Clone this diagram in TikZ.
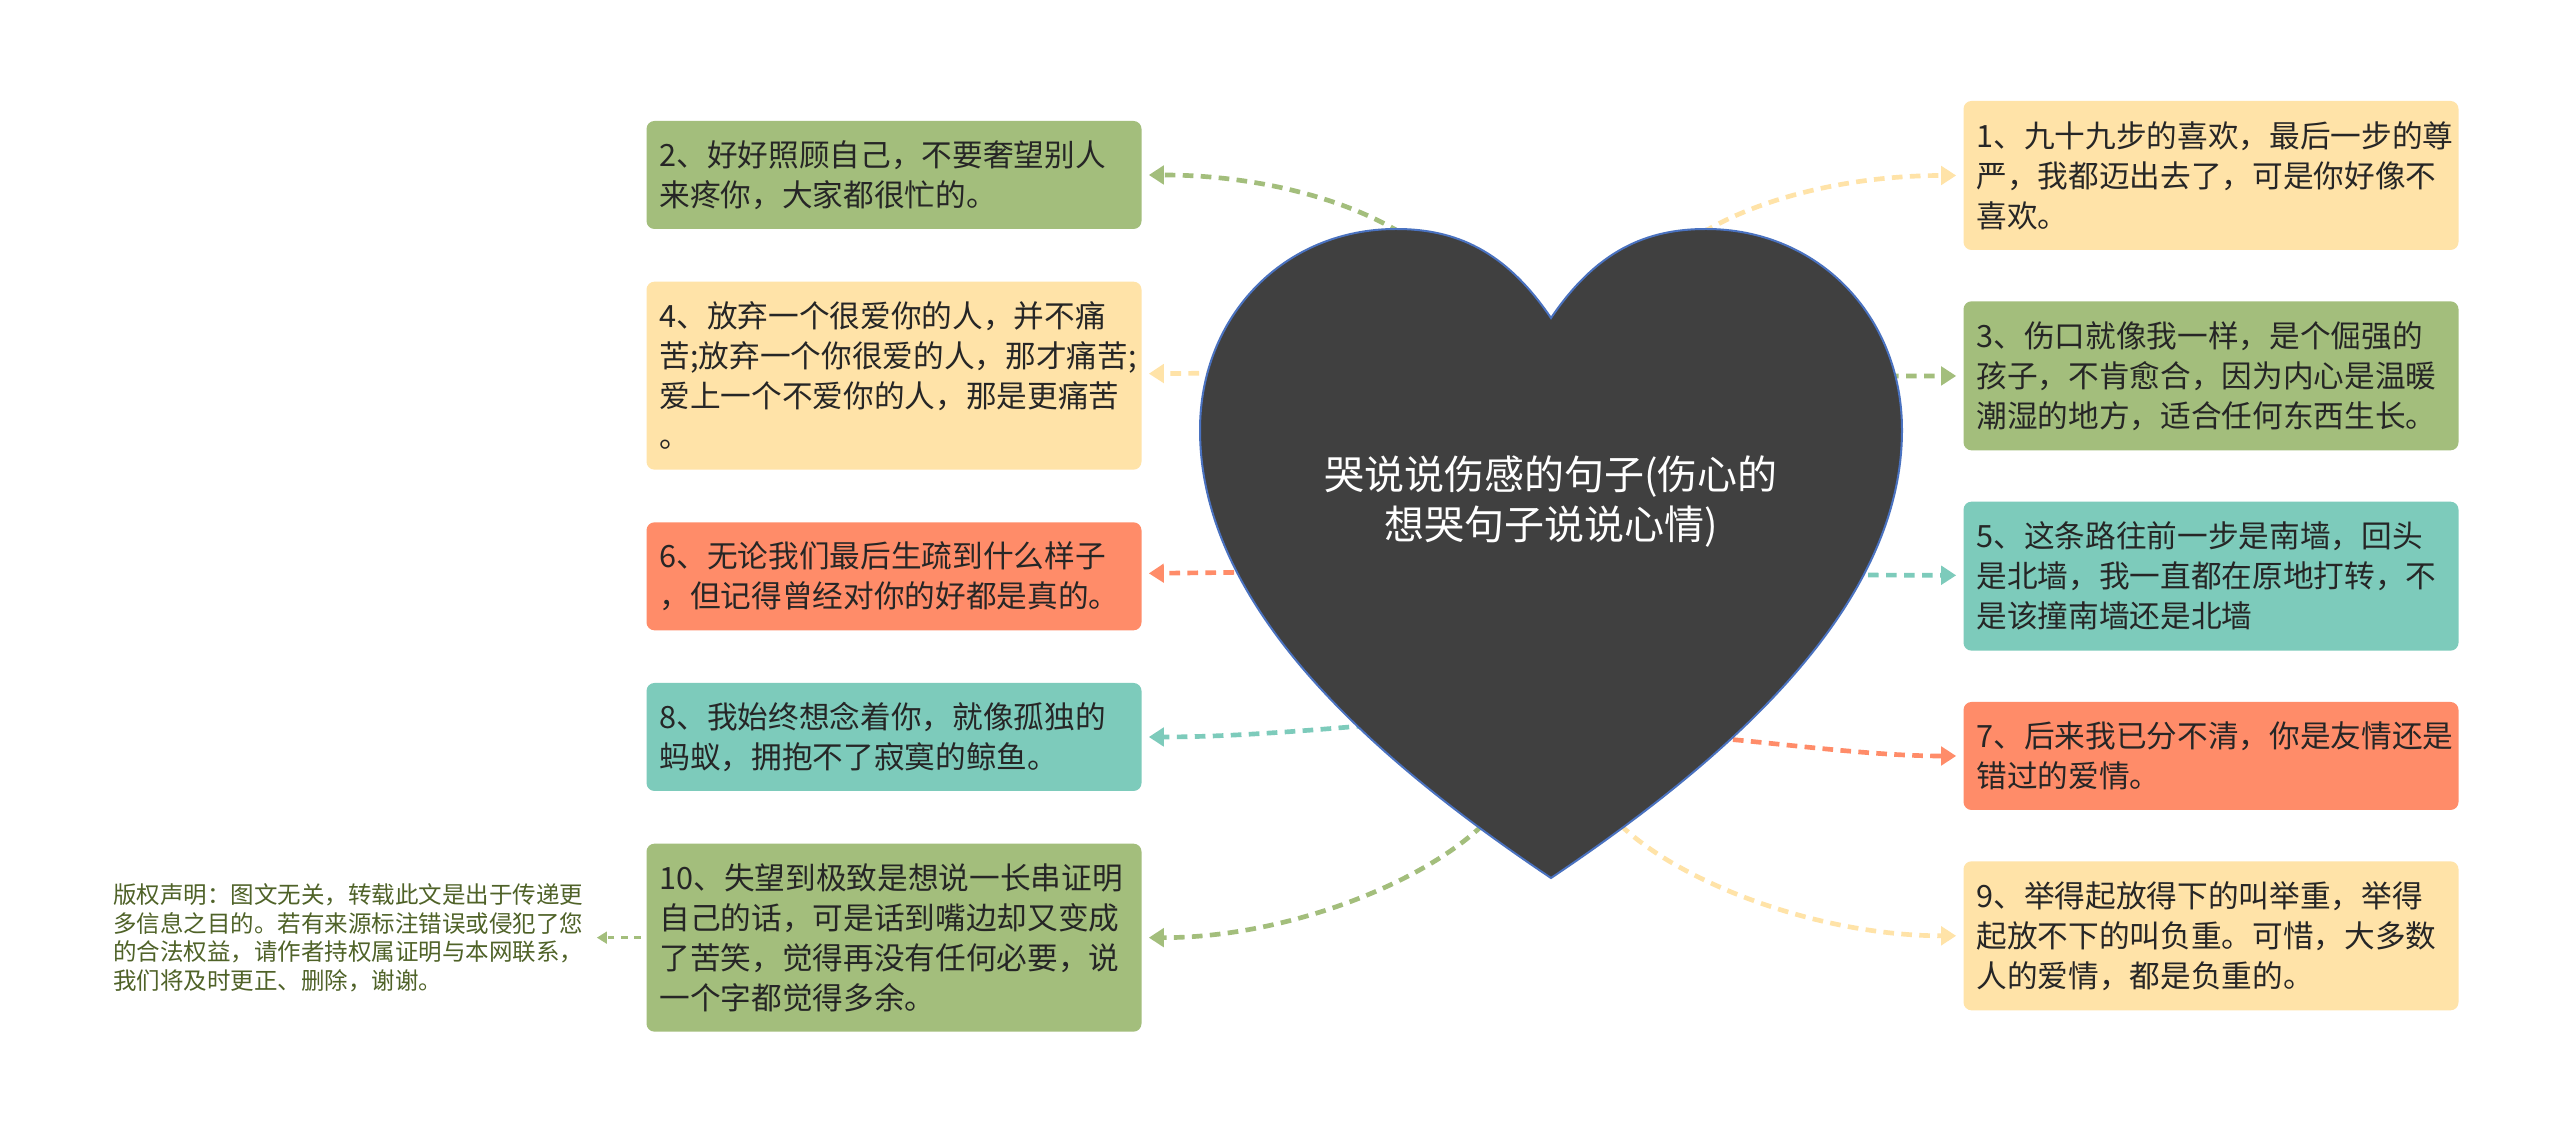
\documentclass[tikz,border=0pt]{standalone}
\usepackage{fontspec}
\setmainfont{Noto Sans CJK SC}
\usepackage{tikz}
\usetikzlibrary{positioning,arrows.meta}
\definecolor{stgreen}{HTML}{A3BE7C}
\definecolor{styellow}{HTML}{FFE3A8}
\definecolor{storange}{HTML}{FF8C69}
\definecolor{stteal}{HTML}{7DCBBB}
\definecolor{stheart}{HTML}{404040}
\definecolor{stedge}{HTML}{4A72C0}
\definecolor{stnote}{HTML}{4F6228}

\begin{document}
\begin{tikzpicture}[x=0.3pt,y=-0.3pt,node distance=15.4pt]
  \tikzstyle{b}=[rounded corners=2.4pt,text width=140.7pt,inner xsep=3.9pt,inner ysep=0pt,align=left,text=black!85,font=\fontsize{9.2pt}{12pt}\selectfont]
  \tikzstyle{two}=[minimum height=32.4pt]
  \tikzstyle{three}=[minimum height=44.7pt]
  \tikzstyle{four}=[minimum height=56.4pt]
  \tikzstyle{link}=[line width=1.4pt,dash pattern=on 3.2pt off 2.2pt,-{Triangle[length=4.5pt,width=5.5pt]},shorten >=2pt]
  \path[use as bounding box,fill=white] (0,0) rectangle (2560,1133);

  \node[b,two,fill=stgreen] (b2) at (894,175) {2、好好照顾自己，不要奢望别人\\来疼你，大家都很忙的。};
  \node[b,four,fill=styellow,below=of b2] (b4) {4、放弃一个很爱你的人，并不痛\\苦;放弃一个你很爱的人，那才痛苦;\\爱上一个不爱你的人，那是更痛苦\\。};
  \node[b,two,fill=storange,below=of b4] (b6) {6、无论我们最后生疏到什么样子\\，但记得曾经对你的好都是真的。};
  \node[b,two,fill=stteal,below=of b6] (b8) {8、我始终想念着你，就像孤独的\\蚂蚁，拥抱不了寂寞的鲸鱼。};
  \node[b,four,fill=stgreen,below=of b8] (b10) {10、失望到极致是想说一长串证明\\自己的话，可是话到嘴边却又变成\\了苦笑，觉得再没有任何必要，说\\一个字都觉得多余。};

  \node[b,three,fill=styellow] (b1) at (2211,175.5) {1、九十九步的喜欢，最后一步的尊\\严，我都迈出去了，可是你好像不\\喜欢。};
  \node[b,three,fill=stgreen,below=15pt of b1] (b3) {3、伤口就像我一样，是个倔强的\\孩子，不肯愈合，因为内心是温暖\\潮湿的地方，适合任何东西生长。};
  \node[b,three,fill=stteal,below=15pt of b3] (b5) {5、这条路往前一步是南墙，回头\\是北墙，我一直都在原地打转，不\\是该撞南墙还是北墙};
  \node[b,two,fill=storange,below=15pt of b5] (b7) {7、后来我已分不清，你是友情还是\\错过的爱情。};
  \node[b,three,fill=styellow,below=15pt of b7] (b9) {9、举得起放得下的叫举重，举得\\起放不下的叫负重。可惜，大多数\\人的爱情，都是负重的。};

  \node[left=14.7pt of b10,inner sep=3.9pt,align=left,text=stnote,font=\fontsize{7.05pt}{8.6pt}\selectfont] (note) {版权声明：图文无关，转载此文是出于传递更\\多信息之目的。若有来源标注错误或侵犯了您\\的合法权益，请作者持权属证明与本网联系，\\我们将及时更正、删除，谢谢。};
  \draw[stgreen,line width=0.8pt,dash pattern=on 2pt off 2pt,-{Triangle[length=3pt,width=3.5pt]},shorten <=1.5pt] (b10) -- (note);

  \coordinate (c2) at (1415,242);
  \coordinate (c4) at (1235,373);
  \coordinate (c6) at (1270,572);
  \coordinate (c8) at (1385,724);
  \coordinate (c10) at (1495,812);
  \coordinate (c1) at (1688,242);
  \coordinate (c3) at (1870,376);
  \coordinate (c5) at (1850,575);
  \coordinate (c7) at (1715,738);
  \coordinate (c9) at (1608,812);

  \draw[link,stgreen] (c2) .. controls +(-65,-45) and +(110,0) .. (b2.east);
  \draw[link,styellow] (c4) -- (b4);
  \draw[link,storange] (c6) -- (b6);
  \draw[link,stteal] (c8) .. controls +(-70,6) and +(90,0) .. (b8.east);
  \draw[link,stgreen] (c10) .. controls +(-55,65) and +(150,0) .. (b10.east);
  \draw[link,styellow] (c1) .. controls +(65,-45) and +(-110,0) .. (b1.west);
  \draw[link,stgreen] (c3) -- (b3);
  \draw[link,stteal] (c5) -- (b5);
  \draw[link,storange] (c7) .. controls +(70,6) and +(-90,0) .. (b7.west);
  \draw[link,styellow] (c9) .. controls +(55,65) and +(-150,0) .. (b9.west);

  \filldraw[fill=stheart,draw=stedge,line width=0.6pt] (1551,318)
    .. controls (1505,250) and (1455,229) .. (1396,229)
    .. controls (1285,229) and (1200,315) .. (1200,430)
    .. controls (1200,600) and (1360,750) .. (1551,878)
    .. controls (1742,750) and (1902,600) .. (1902,430)
    .. controls (1902,315) and (1817,229) .. (1706,229)
    .. controls (1647,229) and (1597,250) .. (1551,318) -- cycle;
  \node[text=white,align=center,font=\fontsize{12pt}{15pt}\selectfont] (title) at (1551,502) {哭说说伤感的句子(伤心的\\想哭句子说说心情)};
\end{tikzpicture}
\end{document}
